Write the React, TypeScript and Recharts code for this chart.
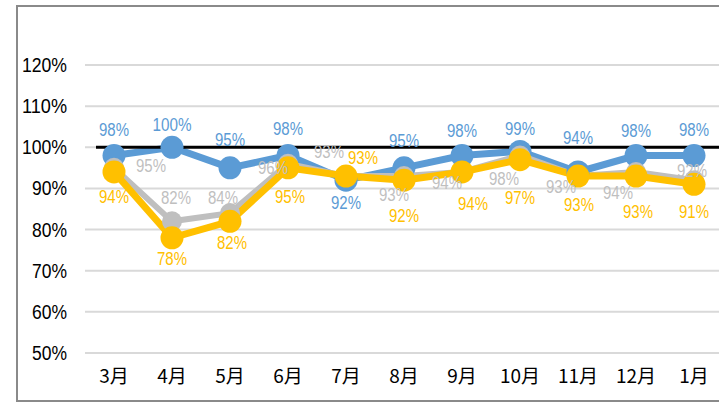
import React from "react";
import { LineChart, Line, XAxis, YAxis, CartesianGrid, ReferenceLine, LabelList } from "recharts";

// months shown on the x axis
const months = ["3月", "4月", "5月", "6月", "7月", "8月", "9月", "10月", "11月", "12月", "1月"];

// rates
const blueRates = [0.98, 1.0, 0.95, 0.98, 0.92, 0.95, 0.98, 0.99, 0.94, 0.98, 0.98];
const grayRates = [0.95, 0.82, 0.84, 0.96, 0.93, 0.93, 0.94, 0.98, 0.93, 0.94, 0.92];
const yellowRates = [0.94, 0.78, 0.82, 0.95, 0.93, 0.92, 0.94, 0.97, 0.93, 0.93, 0.91];

const yTicks = [0.5, 0.6, 0.7, 0.8, 0.9, 1.0, 1.1, 1.2];

const data = months.map((m, i) => ({
  month: m,
  blue: blueRates[i],
  gray: grayRates[i],
  yellow: yellowRates[i],
}));

// label nudges (dx, dy) per point, like the hand-placed labels in the original
const blueNudge = [[0, -26], [0, -22], [0, -28], [0, -27], [0, 23], [0, -27], [0, -25], [0, -22], [0, -34], [0, -25], [0, -26]];
const grayNudge = [[37, -2], [4, -23], [-7, -15], [-15, 4], [-17, -24], [-10, 19], [-15, 11], [-16, 23], [-17, 11], [-18, 21], [-2, -9]];
const yellowNudge = [[0, 25], [0, 21], [2, 22], [2, 29], [17, -18], [0, 36], [11, 32], [0, 38], [1, 29], [2, 36], [0, 28]];

const pct = (v: number) => Math.round(v * 100) + "%";

// the original font is a narrow one, so squeeze Arial a bit
const narrowWidth = (s: string, digit: number, percent: number) =>
  s.replace("%", "").length * digit + (s.includes("%") ? percent : 0);

const makeLabel = (color: string, nudge: number[][]) => (props: any) => {
  const { x, y, value, index } = props;
  const [dx, dy] = nudge[index] || [0, 0];
  const s = pct(value);
  return (
    <text
      x={x + dx}
      y={y + dy}
      fill={color}
      fontSize={18}
      fontFamily="Liberation Sans, Arial, sans-serif"
      textAnchor="middle"
      dominantBaseline="central"
      textLength={narrowWidth(s, 9, 12)}
      lengthAdjust="spacingAndGlyphs"
    >
      {s}
    </text>
  );
};

const YTick = (props: any) => {
  const { x, y, payload } = props;
  const s = pct(payload.value);
  const w = narrowWidth(s, 10, 15);
  return (
    <text
      x={x - w}
      y={y}
      fill="#000"
      fontSize={20}
      fontFamily="Liberation Sans, Arial, sans-serif"
      dominantBaseline="central"
      textLength={w}
      lengthAdjust="spacingAndGlyphs"
    >
      {s}
    </text>
  );
};

export default function App() {
  return (
    <div style={{ position: "absolute", left: 0, top: 0, width: 719, height: 406, overflow: "hidden", background: "#fff" }}>
      <div
        style={{
          position: "absolute",
          left: 16,
          top: 5,
          width: 720,
          height: 397,
          border: "2px solid #8a8a8a",
          boxSizing: "border-box",
        }}
      />
      <div style={{ position: "absolute", left: 0, top: 0 }}>
        <LineChart width={740} height={406} data={data} margin={{ top: 65, right: 17, left: 0, bottom: 23 }}>
          <CartesianGrid horizontal vertical={false} stroke="#d9d9d9" strokeWidth={2} />
          <XAxis
            dataKey="month"
            padding={{ left: 29, right: 29 }}
            axisLine={false}
            tickLine={false}
            tickSize={0}
            tickMargin={17}
            height={30}
            tick={{ fill: "#000", fontSize: 19, fontFamily: "Noto Sans CJK JP, sans-serif" }}
          />
          <YAxis
            domain={[0.5, 1.2]}
            ticks={yTicks}
            axisLine={false}
            tickLine={false}
            tickSize={0}
            tickMargin={18}
            width={85}
            tick={<YTick />}
          />
          <Line
            dataKey="blue"
            stroke="#5B9BD5"
            strokeWidth={7}
            dot={{ r: 11.5, fill: "#5B9BD5", stroke: "#5B9BD5", strokeWidth: 0 }}
            isAnimationActive={false}
          >
            <LabelList dataKey="blue" content={makeLabel("#5B9BD5", blueNudge)} />
          </Line>
          <Line
            dataKey="gray"
            stroke="#BFBFBF"
            strokeWidth={6}
            dot={{ r: 10, fill: "#BFBFBF", stroke: "#BFBFBF", strokeWidth: 0 }}
            isAnimationActive={false}
          >
            <LabelList dataKey="gray" content={makeLabel("#BFBFBF", grayNudge)} />
          </Line>
          <Line
            dataKey="yellow"
            stroke="#FFC000"
            strokeWidth={7}
            dot={{ r: 11.5, fill: "#FFC000", stroke: "#FFC000", strokeWidth: 0 }}
            isAnimationActive={false}
          >
            <LabelList dataKey="yellow" content={makeLabel("#FFC000", yellowNudge)} />
          </Line>
          <ReferenceLine
            y={1}
            stroke="#000"
            strokeWidth={3}
            shape={(p: any) => <line x1={p.x1 + 11} y1={p.y1} x2={p.x2} y2={p.y2} stroke="#000" strokeWidth={3} />}
          />
        </LineChart>
      </div>
    </div>
  );
}
